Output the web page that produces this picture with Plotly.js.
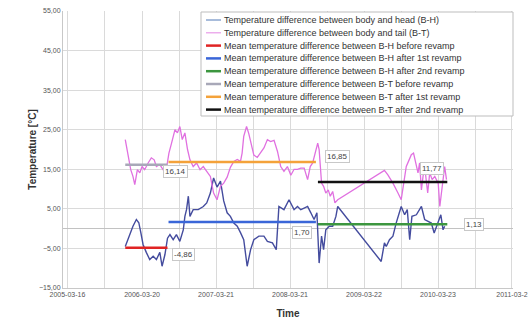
<!DOCTYPE html>
<html>
<head>
<meta charset="utf-8">
<script src="https://cdn.plot.ly/plotly-3.0.1.min.js"></script>
<style>html,body{margin:0;padding:0;background:#fff;}#chart{width:531px;height:323px;}</style>
</head>
<body>
<div id="chart"></div>
<script>
// ---------- data ----------
const bhDates = ['2005-12-27','2006-01-18','2006-02-03','2006-02-20','2006-03-04','2006-03-14','2006-03-25','2006-04-10','2006-04-27','2006-05-14','2006-05-30','2006-06-16','2006-06-27','2006-07-11','2006-07-24','2006-08-05','2006-08-21','2006-09-06','2006-09-23','2006-10-10','2006-10-18','2006-10-26','2006-11-04','2006-11-12','2006-11-28','2006-12-23','2007-01-17','2007-02-03','2007-02-21','2007-03-09','2007-03-26','2007-04-12','2007-04-28','2007-05-15','2007-05-31','2007-06-17','2007-07-04','2007-07-20','2007-08-05','2007-08-22','2007-09-08','2007-09-24','2007-10-19','2007-11-13','2007-11-30','2007-12-25','2008-01-13','2008-01-26','2008-02-20','2008-03-16','2008-04-10','2008-04-27','2008-05-13','2008-05-30','2008-06-16','2008-07-02','2008-07-18','2008-08-01','2008-08-12','2008-08-24','2008-09-03','2008-09-14','2008-10-01','2008-10-18','2008-11-03','2008-11-12','2009-06-15','2009-07-01','2009-07-10','2009-07-26','2009-08-12','2009-08-28','2009-09-22','2009-10-09','2009-10-22','2009-11-03','2009-11-14','2009-12-06','2009-12-31','2010-01-16','2010-02-02','2010-02-18','2010-03-04','2010-03-15','2010-03-27','2010-04-06','2010-04-17','2010-04-25'];
const bhValues = [-4.5,-1.5,0.6,2.3,1.5,-1,-4,-6,-7.8,-7,-7.8,-6,-9.5,-6.6,-2.4,-1.5,-2.8,-1.5,-3.2,-0.3,3.1,4.8,8.2,3.1,4.8,4.8,5.6,6.5,9,12.8,10.5,12,7,4,3.1,1.4,0.6,-1,-2.8,-9.5,-5.3,-2.8,-1.9,-1.9,-3.2,-3.6,-5.3,5.6,4.8,7.3,4.8,5.6,4.8,5.2,5.6,4,2.3,4,-8.7,-1.9,-5.3,-0.3,0.6,0.6,3.1,5.6,-8.3,-3.6,-4.5,-2.8,-1.9,1.4,5.6,3.5,4.8,-2.8,3.1,3.5,5.6,2.3,1.8,1.4,-1.1,0.6,2.3,3.5,-0.3,0.6];

const btDates = ['2005-12-27','2006-01-09','2006-01-23','2006-02-03','2006-02-12','2006-02-25','2006-03-09','2006-03-20','2006-04-02','2006-04-19','2006-05-05','2006-05-19','2006-05-30','2006-06-16','2006-07-02','2006-07-19','2006-07-31','2006-08-13','2006-08-30','2006-09-11','2006-09-23','2006-10-05','2006-10-18','2006-10-31','2006-11-12','2006-11-28','2006-12-15','2007-01-01','2007-01-17','2007-02-03','2007-02-21','2007-03-09','2007-03-26','2007-04-12','2007-04-28','2007-05-15','2007-05-31','2007-06-17','2007-07-04','2007-07-20','2007-07-28','2007-08-05','2007-08-19','2007-08-30','2007-09-11','2007-09-24','2007-10-11','2007-10-27','2007-11-13','2007-11-30','2007-12-16','2008-01-02','2008-01-19','2008-02-04','2008-02-20','2008-03-08','2008-03-25','2008-04-10','2008-04-27','2008-05-13','2008-05-30','2008-06-16','2008-06-29','2008-07-11','2008-07-22','2008-08-05','2008-08-12','2008-08-24','2008-09-03','2008-09-14','2008-09-26','2008-10-06','2008-10-18','2008-10-29','2008-11-12','2009-07-01','2009-07-18','2009-08-12','2009-09-06','2009-09-22','2009-10-06','2009-10-17','2009-10-28','2009-11-11','2009-11-22','2009-12-02','2009-12-14','2009-12-22','2009-12-31','2010-01-08','2010-01-16','2010-01-31','2010-02-10','2010-02-22','2010-03-07','2010-03-24','2010-04-01','2010-04-09','2010-04-17','2010-04-25','2010-05-04'];
const btValues = [22.5,19.1,14.9,13.2,11.1,14.9,14.1,15.7,14.9,16.6,17.9,17.4,15.7,16.2,14.9,15.3,19.1,21.6,25,24.2,25.8,22.5,24.2,20,17.4,15.7,16.6,14.9,15.7,14.5,13.2,9,7.3,10.7,11.5,13,15.5,17,17.5,17,19.1,23.3,25.8,24,21,18.6,18,19.3,20.4,22.5,22,22.3,19.5,15.7,14.5,15.7,13.5,15,15,15.3,15.3,12.4,15.7,16.6,19.1,21.6,20,11.5,10.7,9,9.8,8.2,9.4,6.5,7.3,14.7,13.6,11.5,9,7.3,12,15.7,17,18.7,19.1,16.6,14.1,16.6,9.8,13.2,15.7,9,14.1,12.4,13.2,11.5,5.6,9,12.4,15.7,12.4];

const periodStart = ['2005-12-27','2006-07-29','2008-08-06'];
const periodEnd   = ['2006-07-24','2008-07-27','2010-05-08'];
const bhMeans = [-4.86, 1.70, 1.13];
const btMeans = [16.14, 16.85, 11.77];

const xTickDates  = ['2005-03-16','2006-03-20','2007-03-21','2008-03-21','2009-03-22','2010-03-23','2011-03-24'];
const xTickLabels = ['2005-03-16','2006-03-20','2007-03-21','2008-03-21','2009-03-22','2010-03-23','2011-03-2'];
const xMinorDates = ['2005-09-17','2006-09-19','2007-09-20','2008-09-21','2009-09-22','2010-09-23'];

const seriesNames = [
  'Temperature difference between body and head (B-H)',
  'Temperature difference between body and tail (B-T)',
  'Mean temperature difference between B-H before revamp',
  'Mean temperature difference between B-H after 1st revamp',
  'Mean temperature difference between B-H after 2nd revamp',
  'Mean temperature difference between B-T before revamp',
  'Mean temperature difference between B-T after 1st revamp',
  'Mean temperature difference between B-T after 2nd revamp'
];

// ---------- styles ----------
const colBH = '#444c9e', colBT = '#e070e0';
const bhMeanColors = ['#e02424', '#3a66d8', '#3c963f'];
const btMeanColors = ['#a8a8b8', '#f4a23a', '#111111'];
const legendColors = ['#6f8fc4', '#e89ae8'].concat(bhMeanColors, btMeanColors);
const legendWidths = [1.2, 1.2, 2.5, 2.5, 2.5, 2.5, 2.5, 2.5];

const traces = [];
traces.push({x: bhDates, y: bhValues, type: 'scatter', mode: 'lines', name: seriesNames[0], line: {color: colBH, width: 1.4}, showlegend: false});
traces.push({x: btDates, y: btValues, type: 'scatter', mode: 'lines', name: seriesNames[1], line: {color: colBT, width: 1.3}, showlegend: false});
for (let i = 0; i < 3; i++) {
  traces.push({x: [periodStart[i], periodEnd[i]], y: [bhMeans[i], bhMeans[i]], type: 'scatter', mode: 'lines', name: seriesNames[2 + i], line: {color: bhMeanColors[i], width: 2.5}, showlegend: false});
}
for (let i = 0; i < 3; i++) {
  traces.push({x: [periodStart[i], periodEnd[i]], y: [btMeans[i], btMeans[i]], type: 'scatter', mode: 'lines', name: seriesNames[5 + i], line: {color: btMeanColors[i], width: 2.5}, showlegend: false});
}

const fmt = v => v.toFixed(2).replace('.', ',');
const FONT = 'Liberation Sans, Arial, sans-serif';

// value labels (anchored to mean line ends, offset in pixels)
const labelOffsets = {
  bh: [[16, -7], [-14, -11], [27, 0]],
  bt: [[8, -7], [22, 5], [-15, 14]]
};
const annotations = [];
for (let i = 0; i < 3; i++) {
  annotations.push({x: periodEnd[i], y: bhMeans[i], xref: 'x', yref: 'y', text: fmt(bhMeans[i]), showarrow: false,
    xshift: labelOffsets.bh[i][0], yshift: labelOffsets.bh[i][1], font: {family: FONT, size: 8, color: '#444'},
    bgcolor: '#fff', bordercolor: '#c8c8c8', borderwidth: 1, borderpad: 1});
  annotations.push({x: periodEnd[i], y: btMeans[i], xref: 'x', yref: 'y', text: fmt(btMeans[i]), showarrow: false,
    xshift: labelOffsets.bt[i][0], yshift: labelOffsets.bt[i][1], font: {family: FONT, size: 8, color: '#444'},
    bgcolor: '#fff', bordercolor: '#c8c8c8', borderwidth: 1, borderpad: 1});
}

// custom legend (compact row spacing like the reference)
const W = 531, H = 323, mL = 63, mR = 18, mT = 11, mB = 35;
const pw = W - mL - mR, ph = H - mT - mB;
const px = v => (v - mL) / pw;
const py = v => (H - mB - v) / ph;
const shapes = [{type: 'rect', xref: 'paper', yref: 'paper', x0: px(201), x1: px(513), y0: py(116), y1: py(12),
  fillcolor: '#fff', line: {color: '#bdbdbd', width: 1}, layer: 'above'}];
const rowY0 = 20, rowStep = 12.8;
seriesNames.forEach((name, i) => {
  const yy = rowY0 + rowStep * i;
  shapes.push({type: 'line', xref: 'paper', yref: 'paper', x0: px(206), x1: px(221), y0: py(yy), y1: py(yy),
    line: {color: legendColors[i], width: legendWidths[i]}, layer: 'above'});
  annotations.push({xref: 'paper', yref: 'paper', x: px(222), y: py(yy), xanchor: 'left', yanchor: 'middle',
    text: name, showarrow: false, font: {family: FONT, size: 9, color: '#333'}});
});

const layout = {
  width: W, height: H,
  margin: {l: mL, r: mR, t: mT, b: mB},
  paper_bgcolor: '#fff', plot_bgcolor: '#fff',
  separators: ', ',
  showlegend: false,
  font: {family: FONT},
  xaxis: {
    type: 'date', range: ['2005-02-22', '2011-03-29'],
    tickmode: 'array', tickvals: xTickDates, ticktext: xTickLabels,
    tickfont: {family: FONT, size: 7, color: '#555'},
    showgrid: true, gridcolor: '#dadada', gridwidth: 1,
    minor: {tickmode: 'array', tickvals: xMinorDates, showgrid: true, gridcolor: '#dadada', gridwidth: 1, ticks: ''},
    showline: true, linecolor: '#c8c8c8', linewidth: 1,
    ticks: '', zeroline: false, fixedrange: true,
    title: {text: '<b>Time</b>', font: {family: FONT, size: 10, color: '#333'}, standoff: 12}
  },
  yaxis: {
    range: [-15, 55], tickmode: 'linear', tick0: -15, dtick: 10, tickformat: '.2f',
    tickfont: {family: FONT, size: 7, color: '#555'},
    showgrid: true, gridcolor: '#dadada', gridwidth: 1,
    zeroline: true, zerolinecolor: '#c2c2c2', zerolinewidth: 1,
    showline: true, linecolor: '#c8c8c8', linewidth: 1,
    ticks: '', fixedrange: true,
    title: {text: '<b>Temperature [°C]</b>', font: {family: FONT, size: 10, color: '#333'}, standoff: 0}
  },
  shapes: shapes,
  annotations: annotations
};

Plotly.newPlot('chart', traces, layout, {displayModeBar: false, staticPlot: true});
</script>
</body>
</html>
